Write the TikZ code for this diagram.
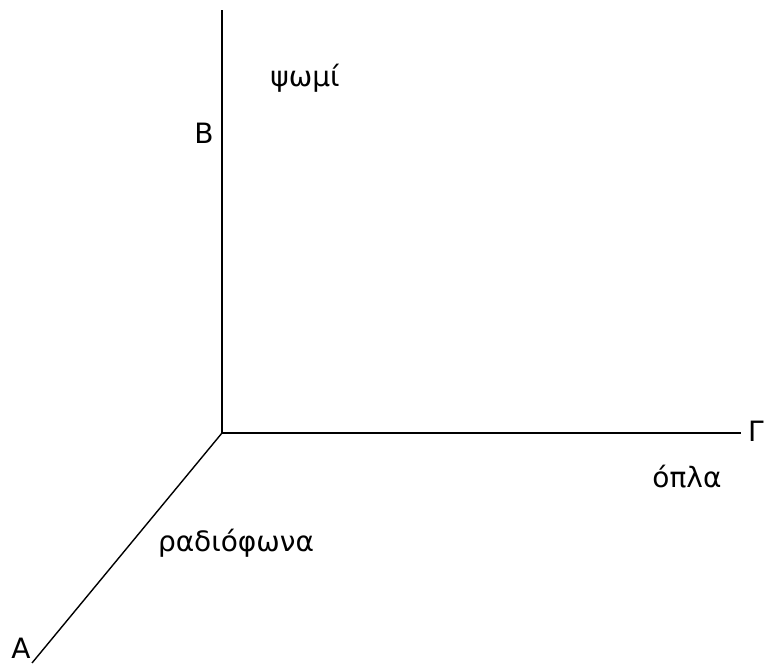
\documentclass[tikz,border=0pt]{standalone}
\usepackage{fontspec}
\setmainfont{DejaVu Sans}
\usetikzlibrary{positioning}

\begin{document}
\begin{tikzpicture}[x=1pt, y=1pt, every node/.style={font=\fontsize{28}{33}\selectfont, inner sep=0pt}]
\tikzset{axis/.style={line width=1.4pt, black}}
\useasboundingbox (0,0) rectangle (764,666);

% Axis end points
\coordinate (o) at (222,233);
\coordinate (top) at (222,656);
\coordinate (right) at (741,233);
\coordinate (left) at (32,3);

% Axes
\foreach \to in {top, right, left}
    \draw[axis] (o) -- (\to);

% Axis letters
\node[anchor=base] (b) at (204,522) {B};
\node[anchor=base] (g) at (756,224) {Γ};
\node[anchor=base] (a) at (21,7) {A};

% Goods
\node[anchor=base] (bread) at (305,579) {ψωμί};
\node[anchor=base] (guns) at (687,178) {όπλα};
\node[anchor=base] (radios) at (236,114) {ραδιόφωνα};

\end{tikzpicture}
\end{document}
